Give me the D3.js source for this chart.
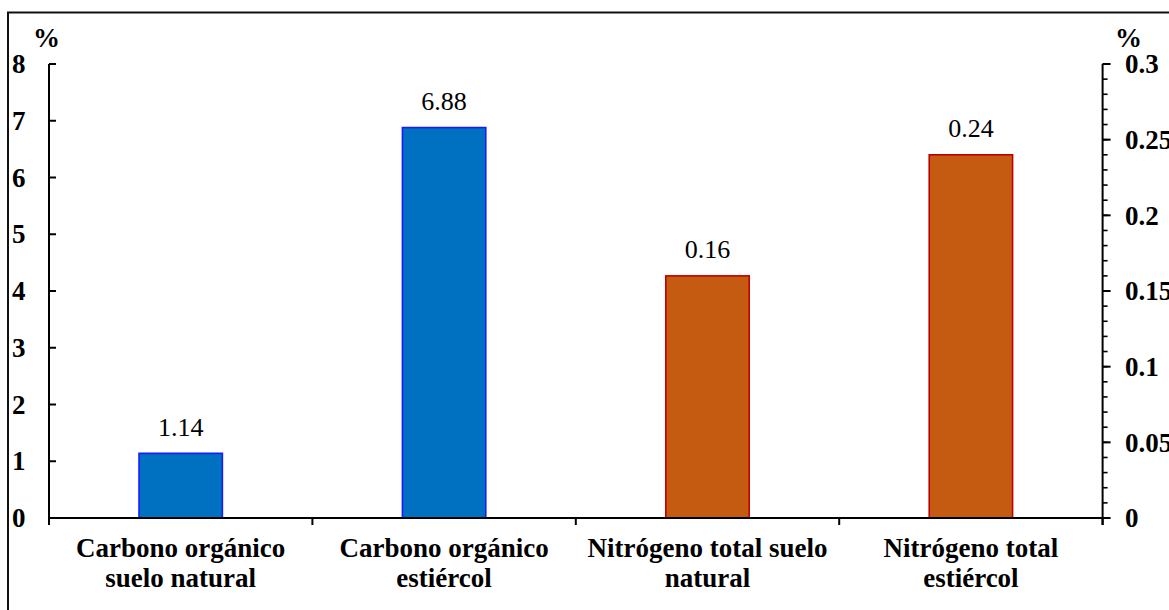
<!DOCTYPE html>
<html>
<head>
<meta charset="utf-8">
<script src="https://cdn.jsdelivr.net/npm/d3@7"></script>
</head>
<body style="margin:0">
<script>
// Category labels (two lines each)
const categories = [
  ["Carbono orgánico", "suelo natural"],
  ["Carbono orgánico", "estiércol"],
  ["Nitrógeno total suelo", "natural"],
  ["Nitrógeno total", "estiércol"]
];
// Carbon values use the left axis, nitrogen values the right axis
const carbonValues = [1.14, 6.88];
const nitrogenValues = [0.16, 0.24];
const leftTicks = [0, 1, 2, 3, 4, 5, 6, 7, 8];
const rightTicks = [0, 0.05, 0.1, 0.15, 0.2, 0.25, 0.3];
const rightMinorTicks = d3.range(0, 31).map(d => d / 100);

const W = 1169, H = 610;
const FONT = '"Liberation Serif", "Times New Roman", Tinos, serif';
const margin = { left: 49, right: 1169 - 1102.6, top: 64, bottom: 610 - 518 };

const svg = d3.select("body").append("svg")
  .attr("width", W).attr("height", H)
  .style("display", "block");

// centre a start-anchored text on cx using its measured width
function centerOn(sel, cx) {
  sel.each(function (d) {
    const w = this.getComputedTextLength();
    d3.select(this).attr("x", cx(d) - w / 2);
  });
}

// outer frame
svg.append("rect")
  .attr("x", 8).attr("y", 12.5)
  .attr("width", 1200).attr("height", 700)
  .attr("fill", "none").attr("stroke", "#111").attr("stroke-width", 2);

const x = d3.scaleBand()
  .domain(d3.range(categories.length))
  .range([margin.left, W - margin.right])
  .padding(0);

const yL = d3.scaleLinear().domain([0, 8]).range([H - margin.bottom, margin.top]);
const yR = d3.scaleLinear().domain([0, 0.3]).range([H - margin.bottom, margin.top]);

const barW = x.bandwidth() / 3.16;

const bars = [
  { i: 0, v: carbonValues[0], y: yL, fill: "#0070C0", stroke: "#1a1aff", label: "1.14" },
  { i: 1, v: carbonValues[1], y: yL, fill: "#0070C0", stroke: "#1a1aff", label: "6.88" },
  { i: 2, v: nitrogenValues[0], y: yR, fill: "#C55A11", stroke: "#C00000", label: "0.16" },
  { i: 3, v: nitrogenValues[1], y: yR, fill: "#C55A11", stroke: "#C00000", label: "0.24" }
];

svg.selectAll("rect.bar").data(bars).join("rect")
  .attr("class", "bar")
  .attr("x", d => x(d.i) + x.bandwidth() / 2 - barW / 2)
  .attr("y", d => d.y(d.v))
  .attr("width", barW)
  .attr("height", d => d.y(0) - d.y(d.v))
  .attr("fill", d => d.fill)
  .attr("stroke", d => d.stroke)
  .attr("stroke-width", 1.6);

svg.selectAll("text.val").data(bars).join("text")
  .attr("class", "val")
  .style("font-family", FONT)
  .attr("y", d => d.y(d.v) - 17.5)
  .attr("font-size", 26)
  .text(d => d.label)
  .call(centerOn, d => x(d.i) + x.bandwidth() / 2);

// left axis
const gL = svg.append("g").attr("transform", `translate(${margin.left},0)`);
gL.append("line").attr("x1", 0).attr("x2", 0)
  .attr("y1", yL(8)).attr("y2", yL(0) + 7)
  .attr("stroke", "#000").attr("stroke-width", 2);
gL.selectAll("line.t").data(leftTicks).join("line")
  .attr("class", "t")
  .attr("x1", 0).attr("x2", 7)
  .attr("y1", d => yL(d)).attr("y2", d => yL(d))
  .attr("stroke", "#000").attr("stroke-width", 2);
svg.selectAll("text.lt").data(leftTicks).join("text")
  .attr("class", "lt")
  .style("font-family", FONT)
  .attr("x", 12).attr("y", d => yL(d))
  .attr("dy", "0.34em")
  .attr("font-size", 27).attr("font-weight", "bold")
  .text(d => d);

// right axis
const xr = W - margin.right;
const gR = svg.append("g").attr("transform", `translate(${xr},0)`);
gR.append("line").attr("x1", 0).attr("x2", 0)
  .attr("y1", yR(0.3)).attr("y2", yR(0) + 7)
  .attr("stroke", "#000").attr("stroke-width", 2);
gR.selectAll("line.m").data(rightMinorTicks).join("line")
  .attr("class", "m")
  .attr("x1", 0).attr("x2", 5)
  .attr("y1", d => yR(d)).attr("y2", d => yR(d))
  .attr("stroke", "#000").attr("stroke-width", 1.6);
gR.selectAll("line.t").data(rightTicks).join("line")
  .attr("class", "t")
  .attr("x1", 0).attr("x2", 8)
  .attr("y1", d => yR(d)).attr("y2", d => yR(d))
  .attr("stroke", "#000").attr("stroke-width", 2);
svg.selectAll("text.rt").data(rightTicks).join("text")
  .attr("class", "rt")
  .style("font-family", FONT)
  .attr("x", 1125).attr("y", d => yR(d))
  .attr("dy", "0.34em")
  .attr("font-size", 27).attr("font-weight", "bold")
  .text(d => d3.format("~g")(d));

// unit labels
svg.append("text").style("font-family", FONT)
  .attr("x", 33).attr("y", 46.5)
  .attr("font-size", 27).attr("font-weight", "bold").text("%");
svg.append("text").style("font-family", FONT)
  .attr("x", 1115).attr("y", 47)
  .attr("font-size", 27).attr("font-weight", "bold").text("%");

// bottom axis
const y0 = yL(0);
svg.append("line")
  .attr("x1", margin.left).attr("x2", xr)
  .attr("y1", y0).attr("y2", y0)
  .attr("stroke", "#000").attr("stroke-width", 2);
const boundaries = d3.range(categories.length + 1).map(i =>
  i < categories.length ? x(i) : x(categories.length - 1) + x.bandwidth());
svg.selectAll("line.xt").data(boundaries).join("line")
  .attr("class", "xt")
  .attr("x1", d => d).attr("x2", d => d)
  .attr("y1", y0).attr("y2", y0 + 7)
  .attr("stroke", "#000").attr("stroke-width", 2);

// two-line category labels, one text per line
const catLines = categories.flatMap((lines, i) => lines.map((s, j) => ({ s, i, j })));
svg.selectAll("text.cat").data(catLines).join("text")
  .attr("class", "cat")
  .style("font-family", FONT)
  .attr("y", d => 557 + d.j * 30)
  .attr("font-size", 27).attr("font-weight", "bold")
  .text(d => d.s)
  .call(centerOn, d => x(d.i) + x.bandwidth() / 2);
</script>
</body>
</html>
